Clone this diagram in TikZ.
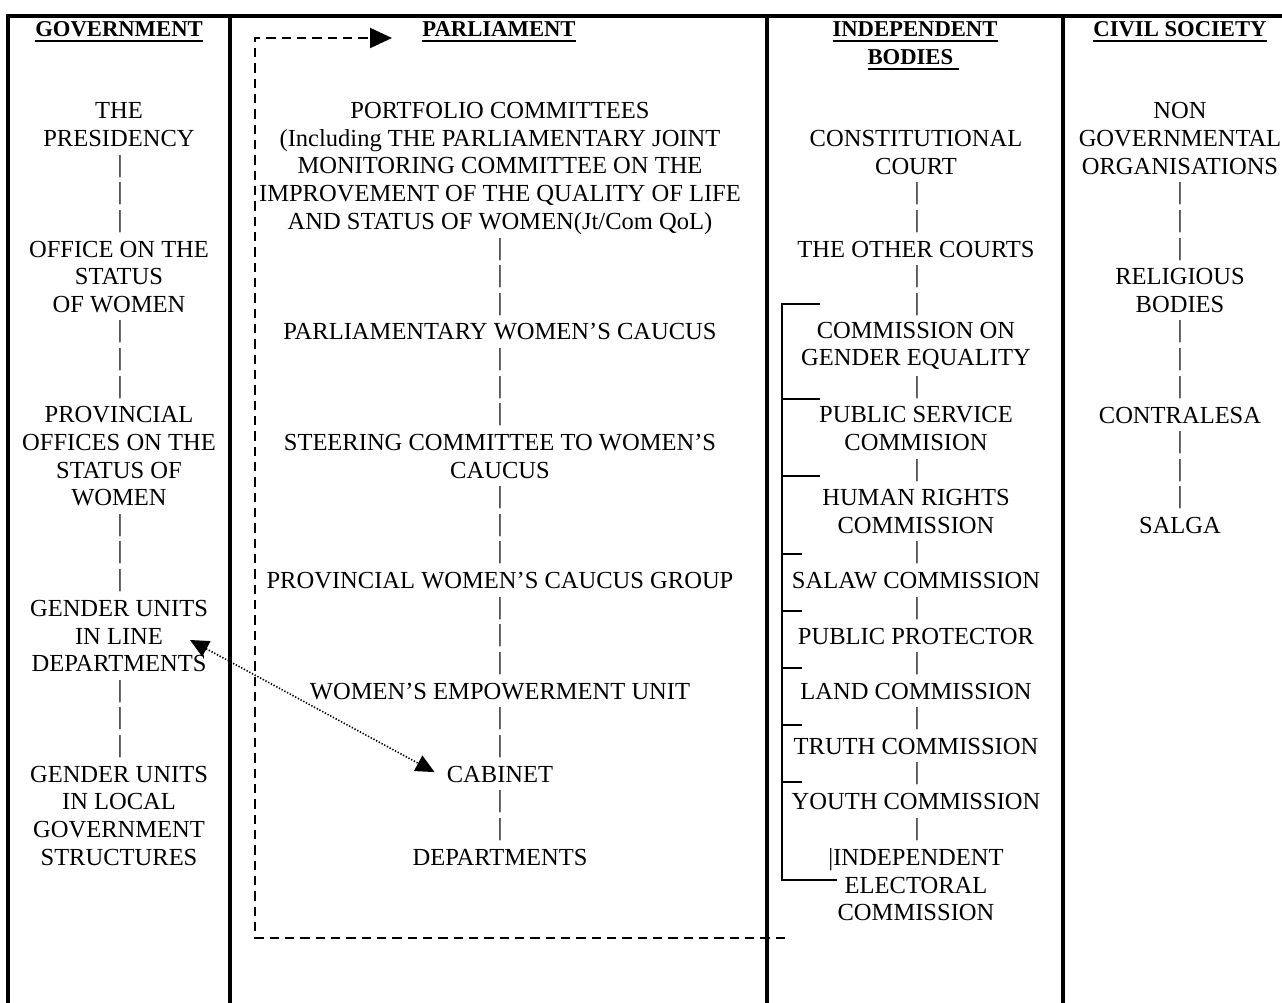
\documentclass[tikz,border=0pt]{standalone}
\usepackage{fontspec}
\setmainfont{Liberation Serif}
\usetikzlibrary{arrows.meta,calc}
\newcommand\bodyfont{\fontsize{18.4}{20.72}\selectfont}
\newcommand\headfont{\fontsize{17}{21}\selectfont\bfseries}
\newcommand\hul[1]{\setbox0\hbox{#1}\rlap{\rule[-4.1pt]{\wd0}{1.5pt}}\box0}
\begin{document}
\begin{tikzpicture}[x=0.75pt,y=-0.75pt,
  item/.style={align=center,font=\bodyfont,inner sep=0pt},
  bar/.style={font=\bodyfont,inner sep=0pt},
  head/.style={font=\headfont,inner sep=0pt,anchor=base},
  frame/.style={line width=2.6pt,line join=miter},
  bracket/.style={line width=1.5pt},
  dasharrow/.style={line width=1.6pt,dash pattern=on 7pt off 4.5pt,-{Triangle[length=16.5pt,width=15pt]}},
  dotarrow/.style={line width=1.2pt,dash pattern=on 1pt off 1.3pt,{Triangle[length=14pt,width=13pt]}-{Triangle[length=14pt,width=13pt]}}
]
\useasboundingbox (0,0) rectangle (1282,1003);
% frame and column rules
\draw[frame] (8,1003) -- (8,16) -- (1282,16);
\draw[frame] (230,16) -- (230,1003);
\draw[frame] (767,16) -- (767,1003);
\draw[frame] (1063,16) -- (1063,1003);
% headings
\node[head] (hgov) at (119,36.5) {\hul{GOVERNMENT}};
\node[head] (hpar) at (499,36.5) {\hul{PARLIAMENT}};
\node[head] (hind) at (915,36.5) {\hul{INDEPENDENT}};
\node[head] (hbod) at (913,64.5) {\hul{BODIES\hspace{4pt}}};
\node[head] (hciv) at (1180,36.5) {\hul{CIVIL SOCIETY}};
% government
\node[item] (pres) at (119,124.8) {THE\\PRESIDENCY};
\node[item] (osw) at (119,276.8) {OFFICE ON THE\\STATUS\\OF WOMEN};
\node[item] (pow) at (119,456.4) {PROVINCIAL\\OFFICES ON THE\\STATUS OF\\WOMEN};
\node[item] (gul) at (119,636) {GENDER UNITS\\IN LINE\\DEPARTMENTS};
\node[item] (glg) at (119,815.6) {GENDER UNITS\\IN LOCAL\\GOVERNMENT\\STRUCTURES};
\foreach \k in {2,3,4,8,9,10,15,16,17,21,22,23}
  \node[bar] (bg\k) at (120,{111+\k*27.63}) {|};
% parliament
\node[item] (pc) at (500,168.3) {PORTFOLIO COMMITTEES\\(Including THE PARLIAMENTARY JOINT\\MONITORING COMMITTEE ON THE\\IMPROVEMENT OF THE QUALITY OF LIFE\\AND STATUS OF WOMEN(Jt/Com QoL)};
\node[item] (pwc) at (500,332) {PARLIAMENTARY WOMEN’S CAUCUS};
\node[item] (scw) at (500,456.4) {STEERING COMMITTEE TO WOMEN’S\\CAUCUS};
\node[item] (pwcg) at (500,580.7) {PROVINCIAL WOMEN’S CAUCUS GROUP};
\node[item] (weu) at (500,691.2) {WOMEN’S EMPOWERMENT UNIT};
\node[item] (cab) at (500,774.1) {CABINET};
\node[item] (dep) at (500,857) {DEPARTMENTS};
\foreach \k in {5,6,7,9,10,11,14,15,16,18,19,20,22,23,25,26}
  \node[bar] (bp\k) at (500,{111+\k*27.63}) {|};
% independent bodies
\node[item] (cc) at (916,152.4) {CONSTITUTIONAL\\COURT};
\node[item] (toc) at (916,249.2) {THE OTHER COURTS};
\node[item] (cge) at (916,345.9) {COMMISSION ON\\GENDER EQUALITY};
\node[item] (psc) at (916,428.7) {PUBLIC SERVICE\\COMMISION};
\node[item] (hrc) at (916,511.6) {HUMAN RIGHTS\\COMMISSION};
\node[item] (salaw) at (916,580.7) {SALAW COMMISSION};
\node[item] (pp) at (916,636) {PUBLIC PROTECTOR};
\node[item] (lc) at (916,691.2) {LAND COMMISSION};
\node[item] (tc) at (916,746.5) {TRUTH COMMISSION};
\node[item] (yc) at (916,801.8) {YOUTH COMMISSION};
\node[item] (iec) at (916,884.6) {|INDEPENDENT\\ELECTORAL\\COMMISSION};
\foreach \k in {3,4,6,7,10,13,16,18,20,22,24,26}
  \node[bar] (bi\k) at (917,{111+\k*27.63}) {|};
% civil society
\node[item] (ngo) at (1180,138.6) {NON\\GOVERNMENTAL\\ORGANISATIONS};
\node[item] (rb) at (1180,290.6) {RELIGIOUS\\BODIES};
\node[item] (contra) at (1180,415) {CONTRALESA};
\node[item] (salga) at (1180,525.5) {SALGA};
\foreach \k in {3,4,5,8,9,10,12,13,14}
  \node[bar] (bc\k) at (1180,{111+\k*27.63}) {|};
% bracket of independent bodies
\draw[bracket] (820,304) -- (782,304) -- (782,880) -- (837,880);
\foreach \y/\l in {399/820,476/820,554/802,611/802,668/802,725/802,782/802}
  \draw[bracket] (782,\y) -- (\l,\y);
% dashed loop arrow
\coordinate (dstart) at (785,938);
\coordinate (dcorner) at (255,38);
\coordinate (dtip) at (392,38);
\draw[dasharrow] (dstart) -| (dcorner) -- (dtip);
% dotted double arrow
\draw[dotarrow] ($(gul.center)+(71,4)$) -- ($(cab.west)+(-12,-2)$);
\end{tikzpicture}
\end{document}
